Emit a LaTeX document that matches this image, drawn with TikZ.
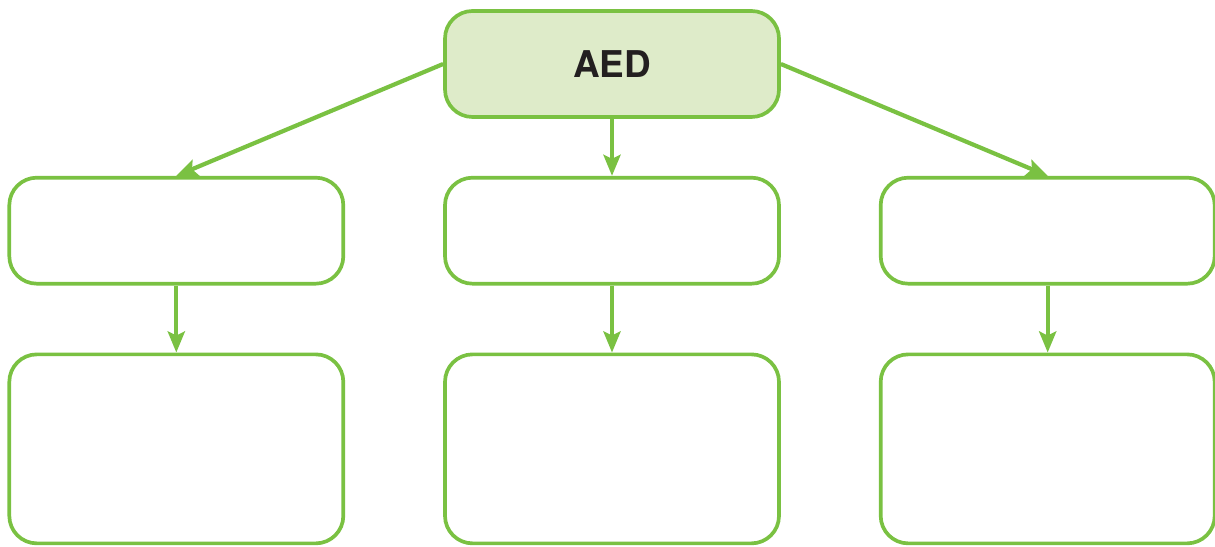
\documentclass[tikz,border=0pt]{standalone}
\usepackage{fontspec}
\setsansfont{TeX Gyre Heros}
\usetikzlibrary{positioning,arrows.meta}
\definecolor{aedgreen}{RGB}{122,193,66}
\definecolor{aedfill}{RGB}{222,235,201}
\definecolor{aedtext}{RGB}{35,31,32}
\def\bw{6.68cm}
\def\bh{2.12cm}
\tikzset{
  box/.style={draw=aedgreen,line width=2.1pt,rounded corners=0.55cm,
              minimum width=\bw,minimum height=\bh,inner sep=0pt},
  tallbox/.style={box,minimum height=3.78cm},
  link/.style={draw=aedgreen,line width=2.4pt,
               -{Stealth[length=0.42cm,width=0.34cm,inset=0.08cm]}}
}
\begin{document}
\begin{tikzpicture}
\useasboundingbox (0,0) rectangle (24.3,10.94);
% top
\node[box,fill=aedfill,font=\sffamily\bfseries\fontsize{21}{24}\selectfont,
      text=aedtext] (aed) at (12.24,9.66) {AED};
% second row
\node[box,below=1.14cm of aed] (mid) {};
\node[box,left=1.96cm of mid]  (left) {};
\node[box,right=1.96cm of mid] (right) {};
% third row
\node[tallbox,below=1.34cm of left]  (leftlow) {};
\node[tallbox,below=1.34cm of mid]   (midlow) {};
\node[tallbox,below=1.34cm of right] (rightlow) {};
% arrows
\draw[link] (aed.west)  -- (left.north);
\draw[link] (aed.south) -- (mid.north);
\draw[link] (aed.east)  -- (right.north);
\foreach\a/\b in {left/leftlow,mid/midlow,right/rightlow}
  \draw[link] (\a.south) -- (\b.north);
\end{tikzpicture}
\end{document}
